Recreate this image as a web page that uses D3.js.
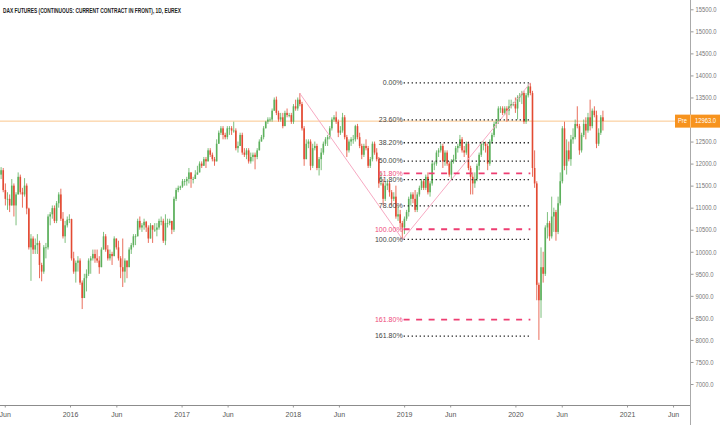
<!DOCTYPE html>
<html>
<head>
<meta charset="utf-8">
<script src="https://cdn.jsdelivr.net/npm/d3@7"></script>
<style>
  body { margin: 0; background: #fff; }
  svg { display: block; font-family: "Liberation Sans Narrow", "Liberation Sans", Arial, sans-serif; }
</style>
</head>
<body>
<script>
// weekly candles, first week ends 2015-05-22
var firstWeek = "2015-05-22";
var firstOpen = 11750;

var closes = [
  // 2015
  11850,11400,11200,11200,11050,11500,11050,11300,11700,11350,11300,11500,10980,10100,10300,10050,
  10150,10200,9700,9550,10100,10100,10800,10850,10990,10700,11100,11300,10750,10350,10600,10730,
  // 2016
  10740,9850,9550,9750,9800,9300,8950,9400,9500,9800,9850,9950,9850,9800,9650,10050,10350,10050,
  9850,9950,9900,10300,10100,9850,9650,9550,9800,9650,10050,10150,10350,10350,10700,10550,10600,
  10680,10550,10300,10600,10500,10500,10550,10700,10700,10250,10650,10650,10700,10500,11200,11400,11450,11480,
  // 2017
  11600,11600,11650,11800,11650,11650,11750,11800,12000,11950,12100,12050,12300,12200,12100,12050,
  12450,12700,12800,12650,12600,12800,12800,12750,12750,12350,12400,12650,12250,12200,12300,12050,
  12150,12200,12150,12300,12500,12600,12800,12950,13000,13000,13200,13450,13150,13000,13050,12850,
  13150,13100,13100,12950,
  // 2018
  13300,13250,13450,13350,12800,12100,12450,12500,11950,12350,12400,11900,12100,12250,12450,12550,
  12600,12800,13000,13050,12950,12700,12750,13050,12600,12300,12500,12550,12550,12850,12600,12400,
  12200,12400,12350,11950,12100,12450,12250,12100,11550,11550,11200,11500,11550,11350,11200,11250,
  10800,10850,10650,10550,
  // 2019
  10750,10900,11200,11300,11200,10950,11300,11450,11600,11450,11700,11350,11550,12000,12000,12250,
  12300,12400,12050,12250,12000,11750,12050,12100,12350,12400,12550,12300,12250,12450,11900,11700,
  11550,11650,11950,12200,12450,12450,12400,12000,12500,12650,12900,12950,13250,13250,13150,13250,
  13200,13300,13350,13350,
  // 2020
  13250,13500,13550,13600,12950,13550,13750,13600,11900,11550,9250,8900,9650,9500,10550,10650,
  10350,10800,10900,10450,11100,11600,12800,11950,12300,12100,12550,12600,12900,12850,12300,12650,
  12900,12750,13050,12850,13200,13100,12450,12700,13050,12963
];

var highs = [
  // 2015
  11920,11900,11550,11350,11300,11650,11550,11350,11800,11750,11450,11670,11550,11000,10400,10350,
  10300,10400,10250,9750,10150,10200,10850,10900,11050,11050,11150,11350,11430,10900,10700,10800,
  // 2016
  10850,10750,10000,9800,9900,9850,9350,9500,9600,9850,9900,10050,10050,10050,9900,10100,10450,10400,
  10150,10050,10000,10350,10300,10250,9900,10300,9850,9800,10100,10200,10400,10400,10750,10800,10650,
  10750,10700,10600,10650,10600,10650,10650,10750,10800,10750,10850,10750,10750,10700,11250,11450,11500,11500,
  // 2017
  11650,11650,11700,11900,11800,11700,11850,11950,12050,12050,12150,12150,12350,12350,12250,12150,
  12550,12750,12850,12850,12700,12850,12850,12850,12950,12800,12500,12700,12700,12350,12350,12350,
  12250,12250,12250,12350,12550,12650,12850,12970,13050,13050,13250,13500,13520,13200,13150,13150,
  13200,13250,13150,13150,
  // 2018
  13350,13450,13500,13600,13400,12850,12550,12550,12550,12450,12500,12450,12150,12350,12500,12600,
  12650,12850,13050,13100,13180,13000,12850,13150,13100,12650,12550,12600,12650,12880,12900,12700,
  12450,12450,12550,12400,12150,12500,12500,12350,12150,11800,11650,11600,11650,11600,11400,11350,
  11500,11050,10950,10700,
  // 2019
  10800,10950,11250,11350,11350,11400,11350,11500,11650,11650,11750,11800,11600,12050,12050,12300,
  12350,12450,12450,12300,12300,12050,12100,12200,12400,12450,12650,12600,12400,12500,12500,11950,
  11800,11800,12000,12250,12500,12500,12500,12450,12550,12700,12950,13000,13300,13300,13300,13300,
  13300,13450,13450,13400,
  // 2020
  13500,13550,13600,13650,13650,13600,13800,13830,13650,12300,11600,9300,10100,10000,10600,10900,
  10700,11250,11000,10950,11250,11800,12850,12950,12550,12500,12650,12800,13000,13300,12900,12700,
  13000,13050,13150,13450,13250,13300,13200,12800,13100,13200
];

var lows = [
  // 2015
  11650,11350,11050,10950,10900,11050,10800,10600,11300,11300,11000,11250,10850,10050,9340,9950,
  9950,9950,9400,9330,9500,9850,10050,10600,10750,10650,10650,11000,10700,10300,10200,10550,
  // 2016
  10650,9800,9500,9300,9550,9250,8700,8950,9100,9450,9500,9800,9750,9750,9500,9650,10050,10000,
  9800,9800,9700,9900,10050,9800,9400,9200,9300,9400,9650,9950,10100,10150,10350,10500,10450,
  10500,10450,10200,10300,10200,10450,10350,10500,10600,10200,10150,10550,10600,10400,10450,11150,11350,11400,
  // 2017
  11450,11500,11500,11550,11450,11550,11650,11750,11800,11900,11950,11900,12050,12150,12050,11950,
  12050,12450,12650,12550,12550,12550,12650,12650,12700,12300,12250,12400,12200,12150,12100,12000,
  12000,12050,11870,12100,12300,12500,12550,12800,12900,12950,12950,13200,13100,12950,12950,12800,
  12850,13050,13050,12900,
  // 2018
  12900,13200,13200,13300,12750,11950,12100,12350,11850,11900,12300,11850,11730,11850,12200,12400,
  12400,12550,12750,12950,12900,12600,12650,12700,12550,12150,12250,12400,12450,12500,12550,12350,
  12100,12150,12300,11900,11900,12050,12200,12050,11450,11500,11050,11150,11400,11250,11050,11150,
  10750,10700,10550,10280,
  // 2019
  10400,10700,10800,11050,11100,10900,10900,11250,11400,11400,11400,11300,11250,11500,11850,11950,
  12150,12250,11900,11950,11950,11700,11650,12000,12050,12250,12350,12250,12150,12200,11850,11300,
  11300,11450,11600,11850,12150,12300,12250,11850,11950,12450,12600,12800,12900,13150,13100,13100,
  12950,13100,13250,13300,
  // 2020
  13150,13000,13400,13350,12900,12900,13500,13550,11700,11450,8900,8000,8500,9300,9450,10300,
  10250,10300,10450,10250,10400,11050,11550,11850,11750,12050,11950,12450,12550,12800,12200,12250,
  12600,12550,12700,12750,12800,13050,12350,12400,12650,12750
];

var lastPrice = 12963;

// axis ticks (13000 sits under the price tag)
var yTicks = [7000,7500,8000,8500,9000,9500,10000,10500,11000,11500,12000,12500,13500,14000,14500,15000,15500];
var xTickDates = ["2015-06-01","2016-01-01","2016-06-01","2017-01-01","2017-06-01","2018-01-01","2018-06-01",
                  "2019-01-01","2019-06-01","2020-01-01","2020-06-01","2021-01-01","2021-06-01"];
var xTickLabels = ["Jun","2016","Jun","2017","Jun","2018","Jun","2019","Jun","2020","Jun","2021","Jun"];

// fibonacci: A = 2018 high, B = 2018 low, C = 2020 high
var fibDates = ["2018-01-23", "2018-12-27", "2020-02-19"];
var fibPrices = [13600, 10280, 13830];
var retraceRatios = [0, 0.236, 0.382, 0.5, 0.618, 0.786, 1, 1.618];
var retraceLabels = ["0.00%","23.60%","38.20%","50.00%","61.80%","78.60%","100.00%","161.80%"];
var extRatios = [0.618, 1, 1.618];
var extLabels = ["61.80%","100.00%","161.80%"];

// 基本設定
var w = 720;
var h = 425;
var axisX = 690.5; // price axis
var axisY = 405.5; // time axis
var upColor = "#5cb05c";
var downColor = "#e34a33";

var parse = d3.timeParse("%Y-%m-%d");

var svg = d3.select("body")
  .append("svg")
  .attr("width", w)
  .attr("height", h);

var x = d3.scaleTime()
  .domain([parse("2016-01-01"), parse("2021-01-01")])
  .range([70, 627]);

var y = d3.scaleLinear()
  .domain([7000, 15500])
  .range([384, 9.3]);

// candle table
var start = parse(firstWeek);
var candles = closes.map(function(c, i) {
  return {
    date: d3.timeDay.offset(start, 7 * i - 2),
    open: i === 0 ? firstOpen : closes[i - 1],
    high: highs[i],
    low: lows[i],
    close: c
  };
});

svg.append("clipPath").attr("id", "plot")
  .append("rect").attr("x", 0).attr("y", 0).attr("width", axisX).attr("height", axisY);

var plot = svg.append("g").attr("clip-path", "url(#plot)");

// last price line
plot.append("line")
  .attr("x1", 0).attr("x2", axisX)
  .attr("y1", y(lastPrice)).attr("y2", y(lastPrice))
  .attr("stroke", "#f9b870").attr("stroke-opacity", 0.8).attr("stroke-width", 1);

// candles
var bars = plot.append("g").selectAll("g")
  .data(candles)
  .enter()
  .append("g");

bars.append("line")
  .attr("x1", function(d) { return x(d.date); })
  .attr("x2", function(d) { return x(d.date); })
  .attr("y1", function(d) { return y(d.high); })
  .attr("y2", function(d) { return y(d.low); })
  .attr("stroke", function(d) { return d.close >= d.open ? upColor : downColor; })
  .attr("stroke-width", 0.8);

bars.append("rect")
  .attr("x", function(d) { return x(d.date) - 0.8; })
  .attr("width", 1.6)
  .attr("y", function(d) { return y(Math.max(d.open, d.close)); })
  .attr("height", function(d) { return Math.max(0.8, Math.abs(y(d.open) - y(d.close))); })
  .attr("fill", function(d) { return d.close >= d.open ? upColor : downColor; });

// fib zigzag A-B-C
var pts = fibDates.map(function(d, i) { return [x(parse(d)), y(fibPrices[i])]; });
plot.append("path")
  .attr("d", d3.line()(pts))
  .attr("fill", "none")
  .attr("stroke", "#f7a9c2")
  .attr("stroke-width", 1);

var fx1 = x(parse(fibDates[1]));
var fx2 = x(parse(fibDates[2]));
var span = fibPrices[2] - fibPrices[1];
var swing = fibPrices[0] - fibPrices[1];

// retracement levels (black dotted)
retraceRatios.forEach(function(r, i) {
  var ly = y(fibPrices[2] - r * span);
  plot.append("line")
    .attr("x1", fx1 + 1).attr("x2", fx2)
    .attr("y1", ly).attr("y2", ly)
    .attr("stroke", "#2b2b2b")
    .attr("stroke-width", 1.4)
    .attr("stroke-dasharray", "1.4,2.6");
  plot.append("text")
    .attr("x", fx1).attr("y", ly)
    .attr("dy", "0.33em")
    .attr("text-anchor", "end")
    .attr("font-size", "7px")
    .attr("fill", "#444")
    .text(retraceLabels[i]);
});

// trend extension levels (pink dashed)
extRatios.forEach(function(r, i) {
  var ly = y(fibPrices[2] - r * swing);
  plot.append("line")
    .attr("x1", fx1 + 1).attr("x2", fx2)
    .attr("y1", ly).attr("y2", ly)
    .attr("stroke", "#ee3e72")
    .attr("stroke-width", 1.8)
    .attr("stroke-dasharray", "6,6.5");
  plot.append("text")
    .attr("x", fx1).attr("y", ly)
    .attr("dy", "0.33em")
    .attr("text-anchor", "end")
    .attr("font-size", "7px")
    .attr("fill", "#ee4a7c")
    .text(extLabels[i]);
});

// time axis
var xAxis = svg.append("g")
  .attr("transform", "translate(0," + axisY + ")")
  .call(d3.axisBottom(x)
    .tickValues(xTickDates.map(parse))
    .tickFormat(function(d, i) { return xTickLabels[i]; })
    .tickSize(2)
    .tickPadding(5));
xAxis.select(".domain").remove();
xAxis.selectAll("line").attr("stroke", "#999");
xAxis.selectAll("text").attr("fill", "#555").attr("font-size", "7px").attr("font-family", null);

// price axis
var yAxis = svg.append("g")
  .attr("transform", "translate(" + axisX + ",0)")
  .call(d3.axisRight(y)
    .tickValues(yTicks)
    .tickFormat(d3.format(".1f"))
    .tickSize(3)
    .tickPadding(2));
yAxis.select(".domain").remove();
yAxis.selectAll("line").attr("stroke", "#999");
yAxis.selectAll("text")
  .attr("fill", "#777")
  .attr("font-size", "7px")
  .attr("font-family", null)
  .attr("textLength", function(d) { return d >= 10000 ? 21 : 18; })
  .attr("lengthAdjust", "spacingAndGlyphs");

svg.append("line")
  .attr("x1", 0).attr("x2", axisX)
  .attr("y1", axisY).attr("y2", axisY)
  .attr("stroke", "#8c8c8c").attr("stroke-width", 1);
svg.append("line")
  .attr("x1", axisX).attr("x2", axisX)
  .attr("y1", 0).attr("y2", h)
  .attr("stroke", "#aaa").attr("stroke-width", 1);

// last price tag
var ty = y(lastPrice);
svg.append("rect")
  .attr("x", 675).attr("y", ty - 6.5)
  .attr("width", 45).attr("height", 13)
  .attr("fill", "#f7931e");
svg.append("line")
  .attr("x1", axisX).attr("x2", axisX)
  .attr("y1", ty - 6.5).attr("y2", ty + 6.5)
  .attr("stroke", "#fbc07a").attr("stroke-width", 1);
svg.append("text")
  .attr("x", 678).attr("y", ty).attr("dy", "0.33em")
  .attr("font-size", "6.5px").attr("fill", "#fff")
  .attr("textLength", 9).attr("lengthAdjust", "spacingAndGlyphs")
  .text("Pre");
svg.append("text")
  .attr("x", 695).attr("y", ty).attr("dy", "0.33em")
  .attr("font-size", "6.3px").attr("fill", "#fff")
  .attr("textLength", 21).attr("lengthAdjust", "spacingAndGlyphs")
  .text(d3.format(".1f")(lastPrice));

// title
svg.append("text")
  .attr("x", 3).attr("y", 12.5)
  .attr("font-size", "8px")
  .attr("font-weight", "bold")
  .attr("fill", "#222")
  .attr("textLength", 178)
  .attr("lengthAdjust", "spacingAndGlyphs")
  .text("DAX FUTURES (CONTINUOUS: CURRENT CONTRACT IN FRONT), 1D, EUREX");
</script>
</body>
</html>
